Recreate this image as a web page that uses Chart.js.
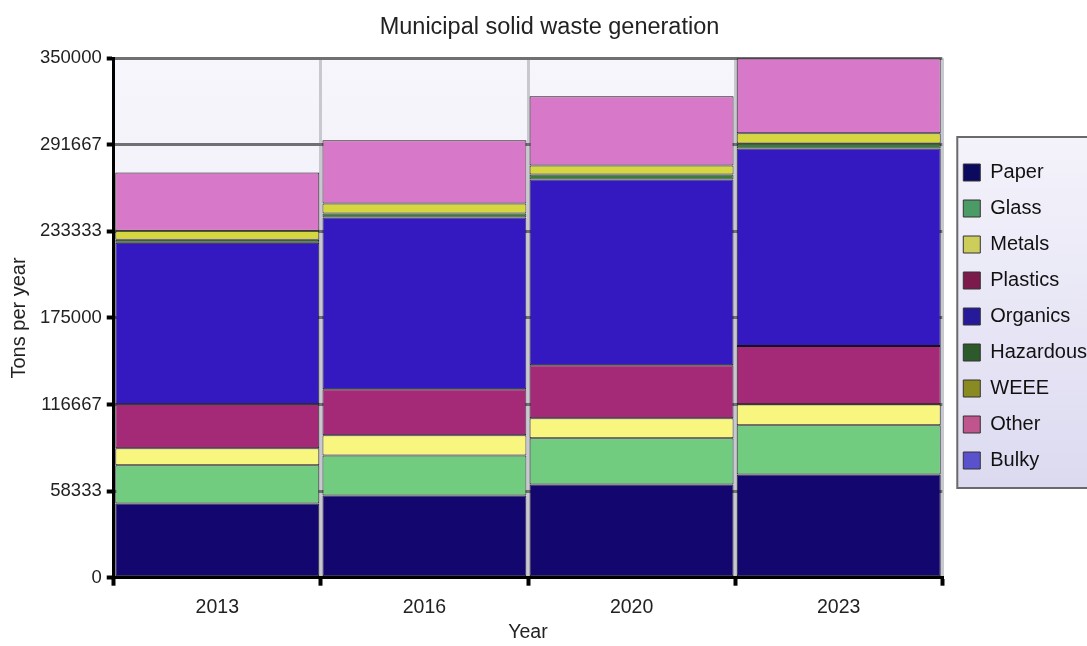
<!DOCTYPE html>
<html>
<head>
<meta charset="utf-8">
<script src="https://cdn.jsdelivr.net/npm/chart.js@4/dist/chart.umd.min.js"></script>
<style>
  html, body { margin: 0; padding: 0; background: #fff; }
  #wrap { width: 1087px; height: 646px; }
</style>
</head>
<body>
<div id="wrap"><canvas id="waste" width="1087" height="646"></canvas></div>
<script>
// categories
const years = ['2013', '2016', '2020', '2023'];

// series values (tons per year)
const paper     = [50000, 55400, 62800, 69600];
const glass     = [25700, 27000, 31100, 33100];
const metals    = [11500, 13500, 13500, 14200];
const plastics  = [29700, 31100, 35800, 39200];
const organics  = [108800, 115600, 125000, 133100];
const hazardous = [2000, 2700, 3400, 3400];
const weee      = [6100, 6800, 6100, 6800];
const other     = [39200, 42600, 46600, 50600];
const bulky     = [0, 0, 0, 0];

const seriesNames = ['Paper', 'Glass', 'Metals', 'Plastics', 'Organics', 'Hazardous', 'WEEE', 'Other', 'Bulky'];
const seriesData = [paper, glass, metals, plastics, organics, hazardous, weee, other, bulky];

// bar fills and the (darker) legend swatches
const barColors = ['#13066e', '#72cc80', '#f8f67e', '#a42a78', '#3418c0', '#3e7a3e', '#d6d640', '#d878c8', '#5a50c8'];
const legendColors = ['#0c0a5e', '#4c9a66', '#cdcd5c', '#7c1a4c', '#261a9a', '#2c5a2a', '#8a8a22', '#c0548c', '#5a52cc'];

const FONT = "'Liberation Sans', Arial, sans-serif";

const datasets = seriesNames.map((name, i) => ({
  label: name,
  data: seriesData[i],
  backgroundColor: barColors[i],
  borderColor: '#141414',
  borderWidth: name === 'Bulky' ? 0 : 1,
  borderSkipped: false,
  categoryPercentage: 1.0,
  barPercentage: 0.985
}));

const backdrop = {
  id: 'backdrop',
  afterLayout(chart) {
    // nudge the legend into its framed box
    const lg = chart.legend;
    lg.left += 5; lg.right += 5;
    lg.top -= 6; lg.bottom -= 6;
  },
  beforeDraw(chart) {
    const ctx = chart.ctx;
    const a = chart.chartArea;
    ctx.save();
    ctx.fillStyle = '#fff';
    ctx.fillRect(0, 0, chart.width, chart.height);
    let g = ctx.createLinearGradient(0, a.top, 0, a.bottom);
    g.addColorStop(0, '#f7f6fc');
    g.addColorStop(1, '#e6e4f2');
    ctx.fillStyle = g;
    ctx.fillRect(a.left, a.top, a.right - a.left, a.bottom - a.top);

    // legend box
    const bx = a.right + 15, by = 137, bw = chart.width - bx + 4, bh = 351;
    g = ctx.createLinearGradient(0, by, 0, by + bh);
    g.addColorStop(0, '#f4f3fb');
    g.addColorStop(1, '#dcdaf0');
    ctx.fillStyle = g;
    ctx.fillRect(bx, by, bw, bh);
    ctx.strokeStyle = '#6a6a6a';
    ctx.lineWidth = 2;
    ctx.strokeRect(bx, by, bw, bh);
    ctx.restore();
  }
};

new Chart(document.getElementById('waste').getContext('2d'), {
  type: 'bar',
  data: { labels: years, datasets: datasets },
  options: {
    responsive: false,
    animation: false,
    layout: { padding: { left: 7, right: -5, top: 0, bottom: 1 } },
    plugins: {
      title: {
        display: true,
        text: 'Municipal solid waste generation',
        color: '#222',
        font: { family: FONT, size: 23.5, weight: 'normal' },
        padding: { top: 13, bottom: 17 }
      },
      legend: {
        position: 'right',
        labels: {
          color: '#111',
          font: { family: FONT, size: 20 },
          boxWidth: 17,
          boxHeight: 17,
          padding: 16,
          generateLabels(chart) {
            const items = Chart.defaults.plugins.legend.labels.generateLabels(chart);
            items.forEach((it, i) => {
              it.fillStyle = legendColors[i];
              it.strokeStyle = '#333';
              it.lineWidth = 1;
            });
            return items;
          }
        }
      },
      tooltip: { enabled: false }
    },
    scales: {
      x: {
        stacked: true,
        grid: {
          offset: true,
          color: ctx => ctx.index === years.length ? '#707070' : '#c8c8d0',
          lineWidth: 3,
          tickColor: '#000',
          tickWidth: 4,
          tickLength: 8
        },
        border: { color: '#000', width: 3 },
        ticks: { color: '#222', font: { family: FONT, size: 19.5, lineHeight: 1.0 }, padding: 12 },
        title: {
          display: true,
          text: 'Year',
          color: '#222',
          font: { family: FONT, size: 19.5, lineHeight: 0.4 },
          padding: { top: 0, bottom: 8 }
        }
      },
      y: {
        stacked: true,
        min: 0,
        max: 350000,
        grid: {
          color: '#707070',
          lineWidth: 3,
          tickColor: '#000',
          tickWidth: 4,
          tickLength: 7
        },
        border: { color: '#000', width: 3 },
        ticks: {
          count: 7,
          color: '#222',
          font: { family: FONT, size: 18.5 },
          padding: 5,
          callback: v => String(Math.round(v))
        },
        title: {
          display: true,
          text: 'Tons per year',
          color: '#222',
          font: { family: FONT, size: 20 },
          padding: { top: 0, bottom: 4 }
        }
      }
    }
  },
  plugins: [backdrop]
});
</script>
</body>
</html>
